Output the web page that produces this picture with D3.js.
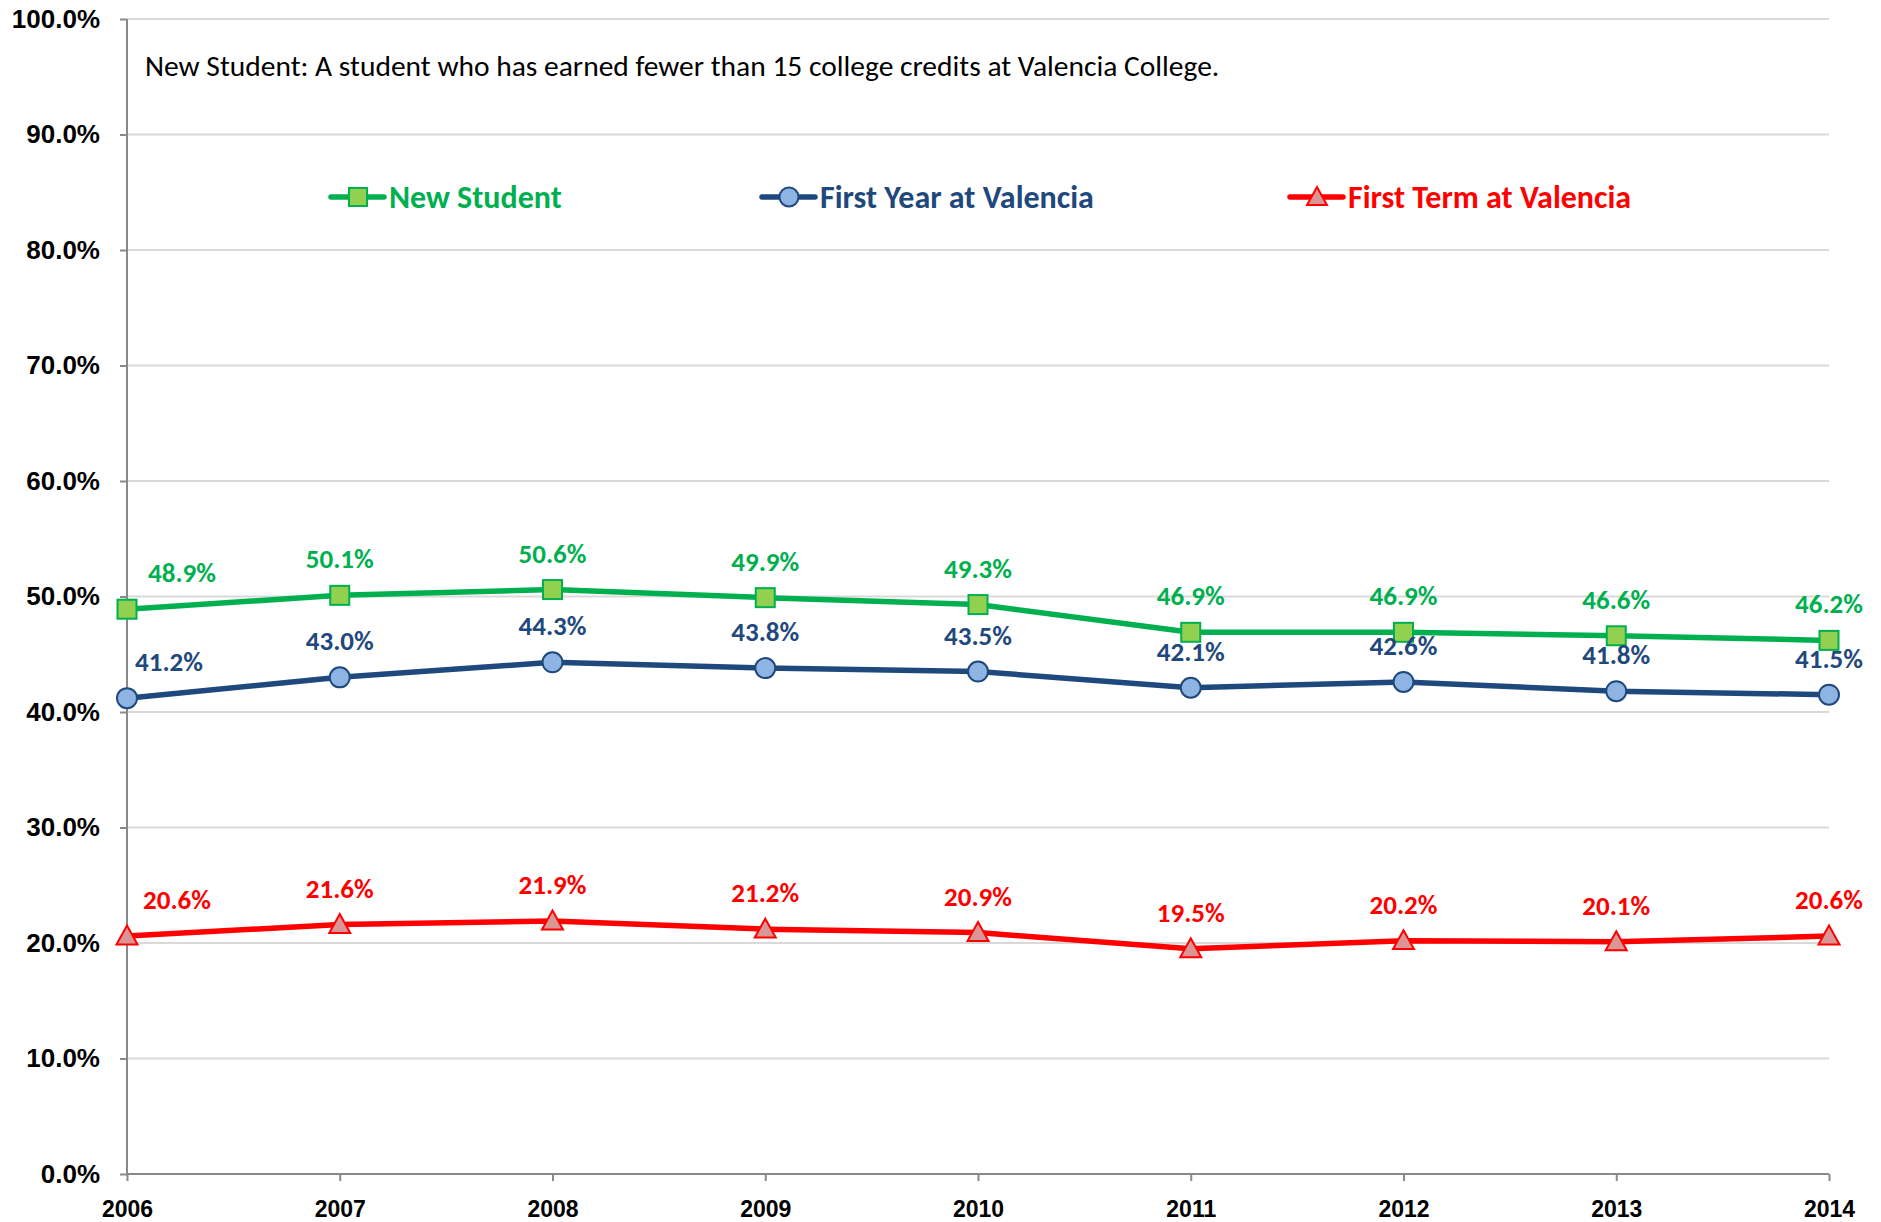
<!DOCTYPE html>
<html>
<head>
<meta charset="utf-8">
<script src="https://cdn.jsdelivr.net/npm/d3@7"></script>
<style>
  body { margin: 0; background: #fff; }
  svg { display: block; font-family: Carlito, Calibri, Lato, sans-serif; }
</style>
</head>
<body>
<svg id="chart" width="1881" height="1222"></svg>
<script>
// years on the x axis
const years = ["2006", "2007", "2008", "2009", "2010", "2011", "2012", "2013", "2014"];

// percent values
const newStudent = [48.9, 50.1, 50.6, 49.9, 49.3, 46.9, 46.9, 46.6, 46.2];
const firstYear = [41.2, 43.0, 44.3, 43.8, 43.5, 42.1, 42.6, 41.8, 41.5];
const firstTerm = [20.6, 21.6, 21.9, 21.2, 20.9, 19.5, 20.2, 20.1, 20.6];

const yTicks = [0, 10, 20, 30, 40, 50, 60, 70, 80, 90, 100];
const note = "New Student: A student who has earned fewer than 15 college credits at Valencia College.";

const series = [
  {name: "New Student", values: newStudent, line: "#00B050", fill: "#92D050", stroke: "#00B050", label: "#00B050", shape: "square", lx: 331, first: 55},
  {name: "First Year at Valencia", values: firstYear, line: "#1F497D", fill: "#8EB4E3", stroke: "#1F497D", label: "#1F497D", shape: "circle", lx: 762, first: 42},
  {name: "First Term at Valencia", values: firstTerm, line: "#FF0000", fill: "#D99694", stroke: "#FF0000", label: "#FF0000", shape: "triangle", lx: 1290, first: 50},
];

let margin = {top: 19, right: 52, bottom: 48, left: 127};
let width = 1881, height = 1222;
let svg = d3.select("#chart");

let x = d3.scalePoint().domain(years).range([margin.left, width - margin.right]).padding(0);
let y = d3.scaleLinear().domain([0, 100]).range([height - margin.bottom, margin.top]);

// gridlines
svg.append("g")
  .selectAll("line")
  .data(yTicks.filter(d => d > 0))
  .enter().append("line")
  .attr("x1", margin.left).attr("x2", width - margin.right)
  .attr("y1", d => y(d)).attr("y2", d => y(d))
  .attr("stroke", "#D9D9D9").attr("stroke-width", 2);

// y axis
let yAxis = svg.append("g")
  .attr("transform", "translate(" + margin.left + ",0)")
  .call(d3.axisLeft(y).tickValues(yTicks).tickSize(7).tickPadding(20).tickFormat(d => d.toFixed(1) + "%"));
yAxis.selectAll("text").attr("font-size", 26).attr("font-weight", "bold").attr("fill", "#000").attr("font-family", null);

// x axis
let xAxis = svg.append("g")
  .attr("transform", "translate(0," + (height - margin.bottom) + ")")
  .call(d3.axisBottom(x).tickSize(7).tickPadding(20));
xAxis.selectAll("text").attr("font-size", 23).attr("font-weight", "bold").attr("fill", "#000").attr("font-family", null);

svg.selectAll(".domain, .tick line").attr("stroke", "#898989").attr("stroke-width", 2);
yAxis.select(".domain").attr("d", "M0," + y(100) + "V" + y(0));
xAxis.select(".domain").attr("d", "M" + margin.left + ",0H" + (width - margin.right));

// note text
svg.append("text")
  .attr("x", 145).attr("y", 76)
  .attr("font-size", 29.5)
  .attr("fill", "#000")
  .text(note);

function drawMarker(g, s, cx, cy, scale) {
  scale = scale || 1;
  if (s.shape === "square") {
    let h = 9.5 * scale;
    g.append("rect").attr("x", cx - h).attr("y", cy - h).attr("width", 2 * h).attr("height", 2 * h)
      .attr("fill", s.fill).attr("stroke", s.stroke).attr("stroke-width", 2);
  } else if (s.shape === "circle") {
    g.append("circle").attr("cx", cx).attr("cy", cy).attr("r", 10 * scale)
      .attr("fill", s.fill).attr("stroke", s.stroke).attr("stroke-width", 2);
  } else {
    let h = 10.5 * scale;
    g.append("path")
      .attr("d", "M" + cx + "," + (cy - h) + "L" + (cx + h) + "," + (cy + h * 0.8) + "L" + (cx - h) + "," + (cy + h * 0.8) + "Z")
      .attr("fill", s.fill).attr("stroke", s.stroke).attr("stroke-width", 2);
  }
}

let line = d3.line()
  .x((d, i) => x(years[i]))
  .y(d => y(d));

series.forEach(s => {
  let g = svg.append("g");
  g.append("path")
    .attr("d", line(s.values))
    .attr("fill", "none")
    .attr("stroke", s.line)
    .attr("stroke-width", 5.5)
    .attr("stroke-linejoin", "round");
  s.values.forEach((v, i) => drawMarker(g, s, x(years[i]), y(v)));

  g.selectAll("text.lbl")
    .data(s.values)
    .enter().append("text")
    .attr("class", "lbl")
    .attr("x", (d, i) => x(years[i]) + (i === 0 ? s.first : 0))
    .attr("y", d => y(d) - 27)
    .attr("text-anchor", "middle")
    .attr("font-size", 27)
    .attr("font-weight", "bold")
    .attr("fill", s.label)
    .text(d => d.toFixed(1) + "%");

  // legend
  let ly = 197;
  let lg = svg.append("g");
  lg.append("line")
    .attr("x1", s.lx).attr("x2", s.lx + 53)
    .attr("y1", ly).attr("y2", ly)
    .attr("stroke", s.line).attr("stroke-width", 5.5).attr("stroke-linecap", "round");
  drawMarker(lg, s, s.lx + 27, ly, 0.95);
  lg.append("text")
    .attr("x", s.lx + 58).attr("y", ly + 11)
    .attr("font-size", 32)
    .attr("font-weight", "bold")
    .attr("fill", s.label)
    .text(s.name);
});
</script>
</body>
</html>
